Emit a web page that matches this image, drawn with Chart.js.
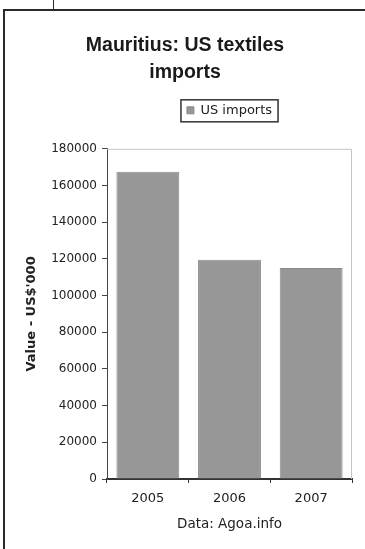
<!DOCTYPE html>
<html>
<head>
<meta charset="utf-8">
<script src="https://cdn.jsdelivr.net/npm/chart.js@4.4.0/dist/chart.umd.min.js"></script>
<style>
  html, body { margin: 0; padding: 0; background: #fff; }
  body { width: 365px; height: 549px; position: relative; overflow: hidden; }
  #wrap { position: absolute; left: 0; top: 0; width: 365px; height: 549px; }
  .frame { position: absolute; left: 3px; top: 9px; right: -5px; bottom: -5px;
           border-left: 2px solid #2a2a2a; border-top: 2px solid #2a2a2a; }
  .notch { position: absolute; left: 53px; top: 0; width: 1px; height: 10px; background: #2a2a2a; }
</style>
</head>
<body>
<div class="notch"></div>
<div class="frame"></div>
<div id="wrap"><canvas id="myChart"></canvas></div>
<script>
  // data
  const years = ['2005', '2006', '2007'];
  const usImports = [167500, 119500, 115000];
  const yMax = 180000;
  const yStep = 20000;

  Chart.defaults.font.family = 'DejaVu Sans';
  Chart.defaults.color = '#222';

  // put legend over the plot area and draw frame bits Excel style
  const excelBits = {
    id: 'excelBits',
    afterLayout(chart) {
      const lg = chart.legend;
      lg.left = chart.chartArea.left;
      lg.right = chart.chartArea.right;
      lg.width = lg.right - lg.left;
      // legend sits higher, leaving a gap above the plot
      lg.top -= 22;
      lg.bottom -= 22;
    },
    afterDraw(chart) {
      const ctx = chart.ctx;
      const a = chart.chartArea;
      ctx.save();
      // light border on top and right of plot
      ctx.strokeStyle = '#c4c4c4';
      ctx.lineWidth = 1;
      ctx.beginPath();
      ctx.moveTo(a.left, a.top + 0.5);
      ctx.lineTo(a.right - 0.5, a.top + 0.5);
      ctx.lineTo(a.right - 0.5, a.bottom);
      ctx.stroke();
      // box round the legend
      const hb = chart.legend.legendHitBoxes[0];
      if (hb) {
        ctx.strokeStyle = '#333';
        ctx.lineWidth = 1.5;
        ctx.strokeRect(hb.left - 6, hb.top - 4, hb.width + 12, hb.height + 9);
      }
      ctx.restore();
    }
  };

  var ctx = document.getElementById('myChart').getContext('2d');

  var myChart = new Chart(ctx, {
    type: 'bar',
    data: {
      labels: years,
      datasets: [{
        label: 'US imports',
        data: usImports,
        backgroundColor: '#979797',
        borderColor: '#8a8a8a',
        borderWidth: 1,
        categoryPercentage: 0.77,
        barPercentage: 1
      }]
    },
    options: {
      responsive: true,
      maintainAspectRatio: false,
      animation: false,
      layout: { padding: { left: 18, right: 13, top: 12, bottom: 10 } },
      plugins: {
        title: {
          display: true,
          text: ['Mauritius: US textiles', 'imports'],
          color: '#1a1a1a',
          font: { family: 'Liberation Sans', size: 19.5, weight: 'bold', lineHeight: 1.38 },
          padding: { top: 20, bottom: 30 }
        },
        legend: {
          display: true,
          position: 'top',
          labels: {
            boxWidth: 7,
            boxHeight: 7,
            padding: 10,
            font: { size: 13 },
            color: '#222'
          }
        },
        tooltip: { enabled: false }
      },
      scales: {
        x: {
          offset: true,
          afterFit: (s) => { s.height = 60; },
          grid: {
            offset: true,
            drawOnChartArea: false,
            drawTicks: true,
            tickLength: 4,
            color: '#333'
          },
          border: { display: true, color: '#333', width: 2 },
          ticks: { font: { size: 13 }, padding: 8, color: '#222' },
          title: {
            display: true,
            text: 'Data: Agoa.info',
            font: { size: 13.5 },
            color: '#222',
            padding: { top: 2, bottom: 6 }
          }
        },
        y: {
          min: 0,
          max: yMax,
          afterFit: (s) => { s.width = 89; },
          grid: {
            drawOnChartArea: false,
            drawTicks: true,
            tickLength: 5,
            color: '#444'
          },
          border: { display: true, color: '#444', width: 1 },
          ticks: {
            stepSize: yStep,
            padding: 5,
            font: { size: 12 },
            color: '#222',
            callback: (v) => String(v)
          },
          title: {
            display: true,
            text: "Value - US$'000",
            font: { size: 13, weight: 'bold' },
            color: '#222',
            padding: { top: 6, bottom: 0 }
          }
        }
      }
    },
    plugins: [excelBits]
  });

  myChart.update();
</script>
</body>
</html>
